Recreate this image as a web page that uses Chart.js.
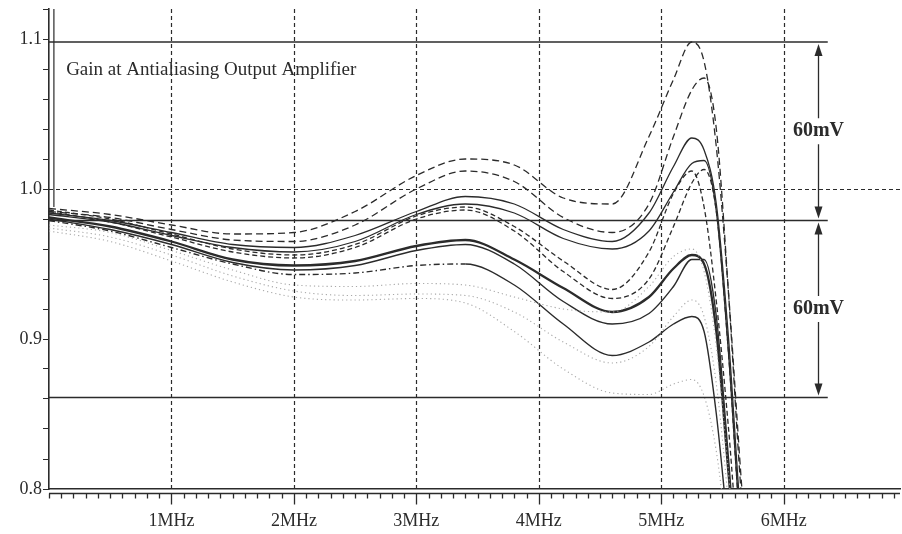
<!DOCTYPE html>
<html>
<head>
<meta charset="utf-8">
<script src="https://cdn.jsdelivr.net/npm/chart.js@4.4.0/dist/chart.umd.min.js"></script>
<style>
  html, body { margin: 0; padding: 0; background: #fff; }
  #wrap { width: 902px; height: 534px; position: relative; }
</style>
</head>
<body>
<div id="wrap"><canvas id="gainChart"></canvas></div>
<script>
// frequency nodes (MHz) shared by all traces
const freq = [0, 0.5, 1, 1.5, 2, 2.5, 3, 3.4, 3.8, 4.2, 4.6, 4.9, 5.1, 5.25, 5.35, 5.45, 5.55, 5.65, 5.75];

// gain traces
const gainD1 = [0.987, 0.983, 0.976, 0.970, 0.971, 0.985, 1.009, 1.020, 1.016, 0.994, 0.990, 1.035, 1.073, 1.098, 1.085, 1.028, 0.930, 0.810, 0.70];
const gainD2 = [0.985, 0.981, 0.973, 0.966, 0.965, 0.976, 1.000, 1.012, 1.005, 0.981, 0.971, 0.990, 1.035, 1.066, 1.074, 1.040, 0.930, 0.800, 0.70];
const gainS1 = [0.984, 0.979, 0.971, 0.963, 0.961, 0.969, 0.985, 0.995, 0.990, 0.973, 0.965, 0.984, 1.015, 1.034, 1.026, 0.990, 0.900, 0.780, 0.70];
const gainS2 = [0.983, 0.978, 0.969, 0.961, 0.958, 0.965, 0.983, 0.990, 0.984, 0.967, 0.960, 0.972, 0.998, 1.017, 1.019, 0.985, 0.890, 0.770, 0.70];
const gainD3 = [0.986, 0.980, 0.970, 0.960, 0.956, 0.963, 0.982, 0.988, 0.975, 0.952, 0.933, 0.958, 0.997, 1.012, 0.988, 0.925, 0.840, 0.740, 0.70];
const gainD4 = [0.985, 0.978, 0.968, 0.958, 0.954, 0.961, 0.980, 0.986, 0.972, 0.945, 0.927, 0.940, 0.975, 1.004, 1.013, 0.985, 0.890, 0.770, 0.70];
const gainS3 = [0.981, 0.975, 0.965, 0.953, 0.949, 0.952, 0.962, 0.966, 0.953, 0.934, 0.918, 0.928, 0.947, 0.956, 0.950, 0.905, 0.810, 0.720, 0.70];
const gainS4 = [0.980, 0.973, 0.963, 0.951, 0.946, 0.949, 0.959, 0.963, 0.950, 0.925, 0.910, 0.917, 0.935, 0.953, 0.953, 0.915, 0.820, 0.720, 0.70];
const gainS5 = [0.979, 0.972, 0.961, 0.950, 0.943, 0.944, 0.949, 0.950, 0.936, 0.910, 0.889, 0.898, 0.910, 0.915, 0.905, 0.850, 0.770, 0.700, 0.70];
const gainG1 = [0.976, 0.971, 0.959, 0.946, 0.936, 0.935, 0.937, 0.936, 0.928, 0.920, 0.918, 0.935, 0.955, 0.960, 0.945, 0.895, 0.810, 0.720, 0.70];
const gainG2 = [0.974, 0.968, 0.956, 0.942, 0.932, 0.929, 0.930, 0.929, 0.918, 0.898, 0.884, 0.895, 0.915, 0.926, 0.915, 0.870, 0.790, 0.700, 0.70];
const gainG3 = [0.972, 0.965, 0.952, 0.938, 0.928, 0.926, 0.927, 0.924, 0.905, 0.880, 0.864, 0.863, 0.870, 0.873, 0.862, 0.825, 0.760, 0.700, 0.70];

// start transient at the left edge
const spikeFreq = [0.04, 0.04];
const spikeGain = [1.125, 0.988];

// reference levels, grid, annotations
const refLevels = [1.098, 0.979, 0.861];
const refEndFreq = 6.36;
const arrowFreq = 6.28;
const spanLabels = ['60mV', '60mV'];
const gridFreqs = [1, 2, 3, 4, 5, 6];
const gridGain = 1.0;
const yLabelTicks = [0.8, 0.9, 1.0, 1.1];
const titleText = 'Gain at Antialiasing Output Amplifier';
const titlePos = { x: 0.14, y: 1.079 };

const INK = '#2b2b2b';
const SERIF = '"Liberation Serif", "Times New Roman", serif';

function pts(xs, ys) {
    return xs.map((x, i) => ({ x: x, y: ys[i] }));
}

function trace(ys, dash, width, color) {
    return {
        data: pts(freq, ys),
        borderColor: color || INK,
        borderWidth: width || 1.3,
        borderDash: dash || [],
        pointRadius: 0,
        fill: false,
        cubicInterpolationMode: 'monotone'
    };
}

const dotted = [1.2, 3];
const gray = '#a8a8a8';

const datasets = [
    trace(gainG1, dotted, 1.1, gray),
    trace(gainG2, dotted, 1.1, gray),
    trace(gainG3, dotted, 1.1, gray),
    trace(gainD1, [7, 4]),
    trace(gainD2, [7, 4]),
    trace(gainS1, []),
    trace(gainS2, []),
    trace(gainD3, [5, 3]),
    trace(gainD4, [5, 3]),
    trace(gainS3, [], 2.3),
    trace(gainS4, [], 1.4),
    Object.assign(trace(gainS5, [], 1.4), {
        segment: {
            borderDash: ctx => ctx.p0.parsed.x < 3.2 ? [6, 3, 1.5, 3] : undefined
        }
    }),
    { data: pts(spikeFreq, spikeGain), borderColor: INK, borderWidth: 1.2, pointRadius: 0 }
];

function arrowHead(ctx, x, y, dir) {
    // dir = -1 points up, 1 points down
    ctx.beginPath();
    ctx.moveTo(x, y);
    ctx.lineTo(x - 4, y - dir * 12);
    ctx.lineTo(x + 4, y - dir * 12);
    ctx.closePath();
    ctx.fill();
}

const decorations = {
    id: 'decorations',
    beforeDatasetsDraw(chart) {
        const { ctx, chartArea: a, scales: { x, y } } = chart;
        ctx.save();
        ctx.strokeStyle = INK;
        ctx.lineWidth = 1.2;
        ctx.setLineDash([4, 3]);
        gridFreqs.forEach(f => {
            const px = Math.round(x.getPixelForValue(f)) + 0.5;
            ctx.beginPath();
            ctx.moveTo(px, a.top);
            ctx.lineTo(px, a.bottom);
            ctx.stroke();
        });
        const gy = Math.round(y.getPixelForValue(gridGain)) + 0.5;
        ctx.beginPath();
        ctx.moveTo(a.left, gy);
        ctx.lineTo(a.right, gy);
        ctx.stroke();
        ctx.restore();
    },
    afterDatasetsDraw(chart) {
        const { ctx, chartArea: a, scales: { x, y } } = chart;
        ctx.save();
        ctx.strokeStyle = INK;
        ctx.fillStyle = INK;
        ctx.lineWidth = 1.3;
        ctx.setLineDash([]);

        // solid reference levels
        const xEnd = x.getPixelForValue(refEndFreq);
        refLevels.forEach(v => {
            const py = y.getPixelForValue(v);
            ctx.beginPath();
            ctx.moveTo(a.left, py);
            ctx.lineTo(xEnd, py);
            ctx.stroke();
        });

        // span arrows with labels
        const ax = Math.round(x.getPixelForValue(arrowFreq)) + 0.5;
        ctx.font = 'bold 20px ' + SERIF;
        ctx.textAlign = 'center';
        ctx.textBaseline = 'middle';
        for (let i = 0; i < refLevels.length - 1; i++) {
            const y0 = y.getPixelForValue(refLevels[i]) + 2;
            const y1 = y.getPixelForValue(refLevels[i + 1]) - 2;
            ctx.beginPath();
            ctx.moveTo(ax, y0 + 6);
            ctx.lineTo(ax, y1 - 6);
            ctx.stroke();
            arrowHead(ctx, ax, y0, -1);
            arrowHead(ctx, ax, y1, 1);
            const my = (y0 + y1) / 2;
            const w = ctx.measureText(spanLabels[i]).width;
            ctx.fillStyle = '#fff';
            ctx.fillRect(ax - w / 2 - 3, my - 13, w + 6, 26);
            ctx.fillStyle = INK;
            ctx.fillText(spanLabels[i], ax, my);
        }

        // plot title inside the frame
        ctx.font = '19px ' + SERIF;
        ctx.textAlign = 'left';
        ctx.fillText(titleText, x.getPixelForValue(titlePos.x), y.getPixelForValue(titlePos.y));
        ctx.restore();
    },
    afterDraw(chart) {
        const { ctx, chartArea: a, scales: { x } } = chart;
        ctx.save();
        ctx.strokeStyle = INK;
        ctx.lineWidth = 1.3;
        const base = a.bottom + 4.5;
        ctx.beginPath();
        ctx.moveTo(a.left, base);
        ctx.lineTo(a.right, base);
        ctx.stroke();
        for (let i = 0; i <= 69; i++) {
            const f = i / 10;
            const px = Math.round(x.getPixelForValue(f)) + 0.5;
            const len = (i % 10 === 0 && i > 0) ? 11 : 5;
            ctx.beginPath();
            ctx.moveTo(px, base);
            ctx.lineTo(px, base + len);
            ctx.stroke();
        }
        ctx.restore();
    }
};

new Chart(document.getElementById('gainChart'), {
    type: 'line',
    data: { datasets: datasets },
    plugins: [decorations],
    options: {
        responsive: true,
        maintainAspectRatio: false,
        animation: false,
        layout: { padding: { top: 9, right: 2, left: 0, bottom: 0 } },
        plugins: {
            legend: { display: false },
            tooltip: { enabled: false }
        },
        scales: {
            x: {
                type: 'linear',
                min: 0,
                max: 6.95,
                afterFit: s => { s.height = 45; s.paddingLeft = 0; s.paddingRight = 0; },
                grid: { display: false, drawTicks: false },
                border: { display: true, color: INK, width: 1.6 },
                ticks: {
                    stepSize: 1,
                    padding: 21,
                    color: INK,
                    font: { family: SERIF, size: 18 },
                    maxRotation: 0,
                    callback: v => (v >= 1 && v <= 6) ? v + 'MHz' : ''
                }
            },
            y: {
                min: 0.8,
                max: 1.12,
                afterFit: s => { s.width = 49; s.paddingTop = 0; s.paddingBottom = 0; },
                grid: {
                    drawOnChartArea: false,
                    drawTicks: true,
                    tickLength: 6,
                    color: INK
                },
                border: { display: true, color: INK, width: 1.6 },
                ticks: {
                    stepSize: 0.02,
                    padding: 1,
                    color: INK,
                    font: { family: SERIF, size: 18 },
                    autoSkip: false,
                    callback: v => yLabelTicks.some(t => Math.abs(t - v) < 1e-6) ? v.toFixed(1) : ''
                }
            }
        }
    }
});
</script>
</body>
</html>
